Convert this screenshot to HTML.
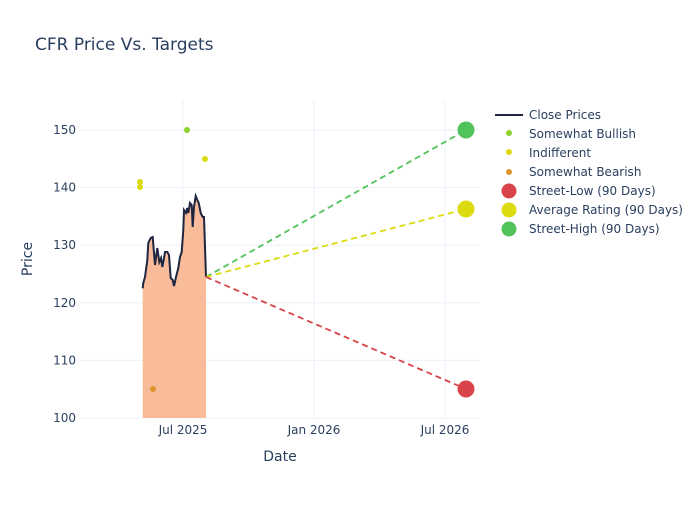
<!DOCTYPE html><html><head><style>body{margin:0;background:#fff}text{font-family:"DejaVu Sans",sans-serif;fill:#2a3f5f}</style></head><body>
<svg width="700" height="500" xmlns="http://www.w3.org/2000/svg">
<text x="35" y="50" font-size="17">CFR Price Vs. Targets</text>
<g stroke="#ebf0f8" stroke-width="1">
<line x1="80" x2="480" y1="418" y2="418"/><line x1="80" x2="480" y1="360.4" y2="360.4"/><line x1="80" x2="480" y1="302.8" y2="302.8"/><line x1="80" x2="480" y1="245.2" y2="245.2"/><line x1="80" x2="480" y1="187.6" y2="187.6"/><line x1="80" x2="480" y1="130" y2="130"/>
<line x1="183" x2="183" y1="100" y2="418"/><line x1="314" x2="314" y1="100" y2="418"/><line x1="445" x2="445" y1="100" y2="418"/>
</g>
<g font-size="12" text-anchor="end"><text x="76" y="422">100</text><text x="76" y="364.4">110</text><text x="76" y="306.8">120</text><text x="76" y="249.2">130</text><text x="76" y="191.6">140</text><text x="76" y="134">150</text></g>
<g font-size="12" text-anchor="middle"><text x="183" y="434">Jul 2025</text><text x="314" y="434">Jan 2026</text><text x="445" y="434">Jul 2026</text></g>
<text x="280" y="461" font-size="14" text-anchor="middle">Date</text>
<text x="32" y="259" font-size="14" text-anchor="middle" transform="rotate(-90 32 259)">Price</text>
<path d="M142.7,288.3 L143.3,283 145,277 147.3,260 148.3,243 150.7,238 152.7,237 154,253 155,265 157.3,248 159.3,262 161,258 162.3,267 163.7,260 165,252 167.3,252 169,255 170.7,278 172.7,280 174,286 176,277 178.3,268 180,257 181.7,252 183.3,230 184,210 186,213 187.3,208 188.3,213 190,203 191.7,205 192.7,227 194,207 195.7,196 197.3,200 198.7,203 200.7,213 202.7,217 204,217 205,247 206,277 L206,418 L142.7,418Z" fill="#f9b896" opacity="0.95"/>
<path d="M142.7,288.3 L143.3,283 145,277 147.3,260 148.3,243 150.7,238 152.7,237 154,253 155,265 157.3,248 159.3,262 161,258 162.3,267 163.7,260 165,252 167.3,252 169,255 170.7,278 172.7,280 174,286 176,277 178.3,268 180,257 181.7,252 183.3,230 184,210 186,213 187.3,208 188.3,213 190,203 191.7,205 192.7,227 194,207 195.7,196 197.3,200 198.7,203 200.7,213 202.7,217 204,217 205,247 206,277" fill="none" stroke="#1f2640" stroke-width="2"/>
<g stroke-width="1.8" stroke-dasharray="6,4"><line x1="206" y1="277" x2="466" y2="130" stroke="#52c35a"/><line x1="206" y1="277" x2="466" y2="209" stroke="#dbdb10"/><line x1="206" y1="277" x2="466" y2="389" stroke="#d9434a"/></g>
<circle cx="187" cy="130" r="3" fill="#8cd12c"/><circle cx="205" cy="159" r="3" fill="#dbdb10"/><circle cx="140" cy="182" r="3" fill="#dbdb10"/><circle cx="140" cy="187" r="3" fill="#dbdb10"/><circle cx="153" cy="389" r="3" fill="#e0952c"/>
<circle cx="466" cy="130" r="8.5" fill="#52c35a"/><circle cx="466" cy="209" r="8.5" fill="#dbdb10"/><circle cx="466" cy="389" r="8.5" fill="#d9434a"/>
<g font-size="12">
<line x1="495" x2="523" y1="115" y2="115" stroke="#1f2640" stroke-width="2"/><text x="529" y="119">Close Prices</text>
<circle cx="509" cy="133" r="3" fill="#8cd12c"/><text x="529" y="138">Somewhat Bullish</text>
<circle cx="509" cy="152" r="3" fill="#dbdb10"/><text x="529" y="157">Indifferent</text>
<circle cx="509" cy="172" r="3" fill="#e0952c"/><text x="529" y="176">Somewhat Bearish</text>
<circle cx="509" cy="191" r="7.5" fill="#d9434a"/><text x="529" y="195">Street-Low (90 Days)</text>
<circle cx="509" cy="210" r="7.5" fill="#dbdb10"/><text x="529" y="214">Average Rating (90 Days)</text>
<circle cx="509" cy="229" r="7.5" fill="#52c35a"/><text x="529" y="233">Street-High (90 Days)</text>
</g>
</svg></body></html>
